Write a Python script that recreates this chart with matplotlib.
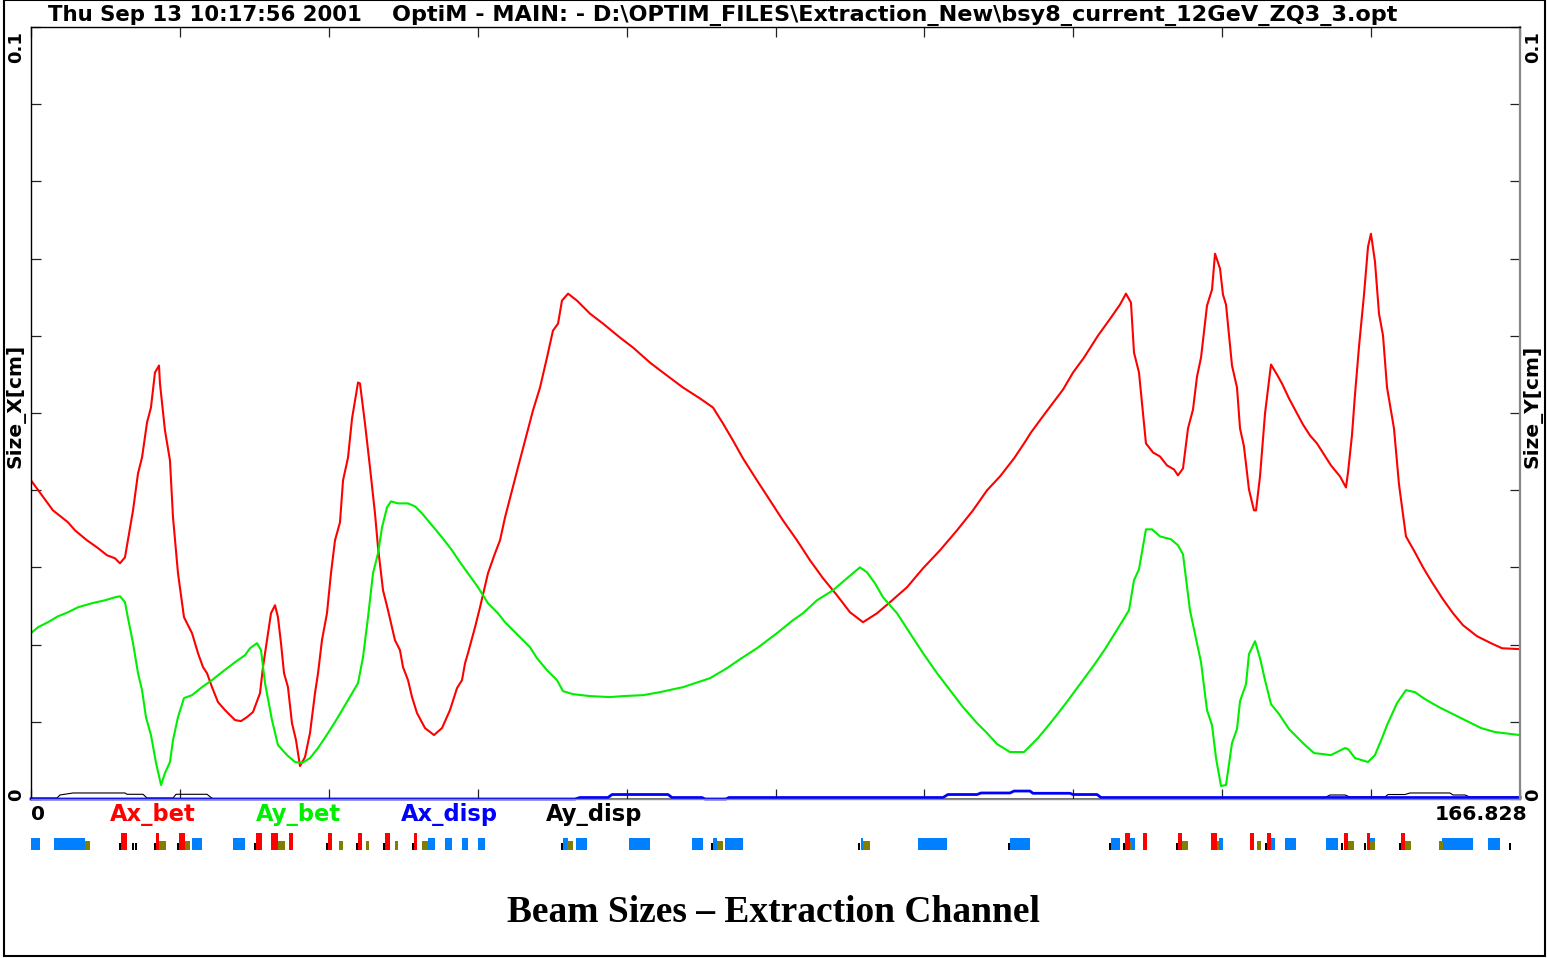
import numpy as np
import matplotlib.pyplot as plt
from matplotlib.patches import Rectangle

# -------------------------------
# Beam sizes (cm) along the line, s in m
# -------------------------------
s_x = [0.00, 1.23, 2.46, 4.15, 4.93, 6.27, 7.39, 8.52, 9.41, 9.97, 10.53, 10.76, 11.43, 11.99,
       12.44, 13.00, 13.44, 13.89, 14.34, 14.45, 15.01, 15.57, 15.91, 16.47, 17.14, 18.04, 18.71,
       19.27, 19.72, 20.28, 20.95, 21.74, 22.86, 23.53, 24.20, 24.87, 25.66, 25.99, 26.44, 26.89,
       27.34, 27.67, 28.01, 28.35, 28.79, 29.24, 29.69, 30.14, 30.70, 31.26, 31.82, 32.16, 32.60,
       33.16, 33.61, 34.06, 34.62, 34.96, 35.52, 35.97, 36.64, 36.86, 37.42, 37.98, 38.54, 38.88,
       39.44, 40.00, 40.78, 41.34, 41.68, 42.24, 42.69, 43.25, 44.14, 45.15, 46.05, 46.94, 47.73,
       48.29, 48.63, 48.96, 49.75, 50.31, 51.20, 51.99, 52.55, 53.11, 53.89, 54.56, 55.35, 56.24,
       57.03, 57.81, 58.48, 59.05, 59.49, 60.17, 61.17, 62.63, 64.09, 65.99, 67.45, 69.35, 71.26,
       73.05, 74.96, 76.41, 77.53, 78.65, 79.77, 81.34, 82.80, 84.25, 85.82, 87.28, 88.74, 90.30,
       91.76, 93.22, 94.79, 96.24, 98.15, 99.94, 101.84, 103.75, 105.54, 107.11, 108.57, 110.14,
       111.26, 112.04, 113.61, 115.63, 116.75, 117.98, 119.55, 121.00, 122.01, 122.68, 123.24,
       123.58, 124.14, 124.92, 125.71, 126.49, 127.28, 128.06, 128.51, 129.07, 129.63, 130.19,
       130.64, 131.09, 131.76, 132.32, 132.66, 133.22, 133.55, 133.89, 134.56, 135.12, 135.46,
       135.90, 136.46, 137.02, 137.25, 137.70, 138.26, 138.93, 139.60, 140.16, 140.95, 141.73,
       142.51, 143.30, 144.08, 144.87, 145.65, 146.66, 147.33, 147.56, 148.00, 148.34, 148.79,
       149.35, 149.80, 150.13, 150.58, 151.03, 151.48, 151.93, 152.71, 153.27, 154.05, 155.06,
       155.96, 156.97, 158.20, 159.32, 160.44, 162.01, 163.58, 164.81, 166.83]
ax_bet = [0.04127, 0.03933, 0.03739, 0.03584, 0.03480, 0.03351, 0.03260, 0.03157, 0.03118, 0.03053,
          0.03131, 0.03286, 0.03739, 0.04217, 0.04424, 0.04877, 0.05071, 0.05524, 0.05615, 0.05382,
          0.04774, 0.04386, 0.03648, 0.02924, 0.02355, 0.02148, 0.01889, 0.01708, 0.01630, 0.01449,
          0.01255, 0.01151, 0.01022, 0.01009, 0.01061, 0.01126, 0.01371, 0.01708, 0.02057, 0.02406,
          0.02510, 0.02355, 0.02018, 0.01630, 0.01449, 0.00983, 0.00763, 0.00427, 0.00543, 0.00854,
          0.01371, 0.01630, 0.02057, 0.02406, 0.02924, 0.03351, 0.03584, 0.04127, 0.04424, 0.04929,
          0.05395, 0.05382, 0.04864, 0.04295, 0.03700, 0.03260, 0.02704, 0.02445, 0.02057, 0.01928,
          0.01708, 0.01540, 0.01320, 0.01113, 0.00919, 0.00828, 0.00919, 0.01151, 0.01436, 0.01540,
          0.01759, 0.01889, 0.02225, 0.02484, 0.02924, 0.03183, 0.03351, 0.03648, 0.03998, 0.04295,
          0.04644, 0.05032, 0.05330, 0.05718, 0.06067, 0.06158, 0.06456, 0.06546, 0.06456, 0.06287,
          0.06158, 0.05977, 0.05848, 0.05653, 0.05485, 0.05330, 0.05188, 0.05071, 0.04864, 0.04644,
          0.04412, 0.04127, 0.03868, 0.03609, 0.03351, 0.03092, 0.02859, 0.02639, 0.02419, 0.02290,
          0.02406, 0.02549, 0.02743, 0.02988, 0.03221, 0.03480, 0.03739, 0.03998, 0.04179, 0.04412,
          0.04606, 0.04748, 0.04994, 0.05304, 0.05524, 0.05718, 0.06003, 0.06236, 0.06404, 0.06546,
          0.06430, 0.05783, 0.05524, 0.04606, 0.04489, 0.04437, 0.04321, 0.04269, 0.04192, 0.04282,
          0.04800, 0.05045, 0.05472, 0.05718, 0.06391, 0.06598, 0.07064, 0.06870, 0.06533, 0.06404,
          0.05615, 0.05330, 0.04800, 0.04567, 0.04010, 0.03739, 0.03739, 0.04179, 0.04994, 0.05628,
          0.05498, 0.05382, 0.05188, 0.05020, 0.04851, 0.04709, 0.04606, 0.04463, 0.04321, 0.04179,
          0.04036, 0.04230, 0.04709, 0.05239, 0.05860, 0.06533, 0.07154, 0.07322, 0.06960, 0.06287,
          0.06003, 0.05330, 0.04800, 0.04075, 0.03402, 0.03195, 0.03001, 0.02807, 0.02587, 0.02406,
          0.02251, 0.02109, 0.02018, 0.01953, 0.01941]

s_y = [0.00, 0.78, 1.90, 3.03, 4.15, 5.27, 6.83, 8.29, 9.41, 9.97, 10.53, 10.76, 11.43, 11.99,
       12.44, 12.88, 13.44, 14.01, 14.57, 15.01, 15.57, 15.91, 16.47, 17.14, 18.04, 19.16, 20.28,
       21.40, 22.86, 23.98, 24.54, 25.32, 25.77, 26.22, 27.00, 27.67, 28.68, 29.58, 30.36, 31.26,
       32.16, 33.28, 34.40, 35.52, 36.64, 37.20, 37.76, 38.32, 38.88, 39.33, 39.89, 40.33, 41.12,
       42.24, 43.02, 43.81, 44.93, 46.05, 47.17, 48.07, 48.96, 50.08, 51.20, 52.32, 53.11, 54.23,
       55.91, 56.69, 57.81, 58.93, 59.61, 60.73, 62.63, 64.87, 66.33, 68.57, 70.47, 73.05, 76.08,
       77.98, 79.44, 81.34, 83.58, 85.37, 86.49, 88.06, 89.86, 91.42, 92.88, 93.66, 94.56, 95.46,
       97.03, 98.48, 99.94, 101.51, 102.96, 104.42, 105.99, 107.11, 108.23, 109.69, 111.26,
       112.82, 114.39, 115.96, 117.53, 119.10, 120.33, 121.79, 123.02, 123.58, 124.14, 124.92,
       125.60, 126.49, 127.73, 128.51, 129.07, 129.85, 130.64, 131.09, 131.76, 132.32, 132.77,
       133.33, 133.89, 134.56, 135.12, 135.46, 136.13, 136.46, 137.14, 137.70, 138.26, 138.93,
       139.83, 140.95, 142.51, 143.75, 145.65, 147.22, 147.56, 148.34, 149.80, 150.58, 151.37,
       151.93, 153.05, 154.05, 155.06, 156.18, 157.75, 159.32, 160.89, 162.46, 164.03, 166.83]
ay_bet = [0.02148, 0.02225, 0.02290, 0.02367, 0.02419, 0.02484, 0.02536, 0.02574, 0.02613, 0.02626,
          0.02549, 0.02406, 0.02018, 0.01630, 0.01410, 0.01061, 0.00828, 0.00466, 0.00181, 0.00336,
          0.00479, 0.00763, 0.01061, 0.01307, 0.01345, 0.01449, 0.01540, 0.01643, 0.01772, 0.01863,
          0.01953, 0.02018, 0.01928, 0.01501, 0.01022, 0.00699, 0.00569, 0.00479, 0.00466, 0.00530,
          0.00660, 0.00854, 0.01061, 0.01281, 0.01501, 0.01837, 0.02355, 0.02924, 0.03183, 0.03519,
          0.03778, 0.03855, 0.03829, 0.03829, 0.03791, 0.03700, 0.03545, 0.03389, 0.03221, 0.03066,
          0.02924, 0.02743, 0.02536, 0.02406, 0.02290, 0.02160, 0.01966, 0.01824, 0.01669, 0.01540,
          0.01397, 0.01358, 0.01333, 0.01320, 0.01333, 0.01345, 0.01384, 0.01449, 0.01565, 0.01695,
          0.01811, 0.01953, 0.02148, 0.02316, 0.02406, 0.02574, 0.02704, 0.02859, 0.03001, 0.02937,
          0.02794, 0.02613, 0.02406, 0.02148, 0.01889, 0.01630, 0.01410, 0.01190, 0.00983, 0.00854,
          0.00712, 0.00608, 0.00608, 0.00789, 0.01009, 0.01242, 0.01488, 0.01734, 0.01941, 0.02212,
          0.02445, 0.02833, 0.02976, 0.03493, 0.03493, 0.03402, 0.03364, 0.03286, 0.03170, 0.02445,
          0.02018, 0.01772, 0.01151, 0.00957, 0.00530, 0.00168, 0.00181, 0.00724, 0.00906, 0.01268,
          0.01488, 0.01876, 0.02044, 0.01824, 0.01540, 0.01229, 0.01100, 0.00906, 0.00724, 0.00595,
          0.00569, 0.00660, 0.00647, 0.00530, 0.00479, 0.00569, 0.00789, 0.00957, 0.01242, 0.01410,
          0.01384, 0.01294, 0.01190, 0.01100, 0.01009, 0.00919, 0.00867, 0.00828]

# dispersion contributions (tiny, sit on the axis)
s_xd = [0, 60.95, 61.51, 64.65, 65.10, 71.37, 71.82, 75.18, 75.52, 77.87, 78.20, 102.18, 102.73,
        105.99, 106.44, 109.69, 110.14, 111.93, 112.26, 116.41, 116.75, 119.44, 119.88, 166.83]
ax_disp = [0, 0, 0.00019, 0.00019, 0.00058, 0.00058, 0.00019, 0.00019, 0, 0, 0.00019, 0.00019,
           0.00058, 0.00058, 0.00078, 0.00078, 0.00103, 0.00103, 0.00074, 0.00074, 0.00058,
           0.00058, 0.00019, 0.00019]
s_yd = [0, 2.91, 3.25, 4.71, 10.53, 10.76, 12.55, 13.00, 15.91, 16.25, 19.72, 20.39, 144.64,
        145.54, 147.22, 147.78, 151.70, 152.04, 153.94, 154.50, 158.98, 159.32, 160.66, 161.22, 166.83]
ay_disp = [0.00013, 0.00013, 0.00052, 0.00078, 0.00078, 0.00061, 0.00061, 0.00013, 0.00013,
           0.00061, 0.00061, 0, 0, 0.00052, 0.00052, 0.00026, 0.00026, 0.00058, 0.00058, 0.00078,
           0.00078, 0.00052, 0.00052, 0.00026, 0.00026]

# -------------------------------
# Lattice elements (start, end in m)
# -------------------------------
quad_start = [0.0, 2.58, 4.37, 18.04, 22.63, 44.48, 46.38, 48.29, 50.08, 59.61, 61.06, 66.99, 74.06,
              76.41, 77.75, 93.00, 99.38, 109.69, 121.00, 123.13, 133.10, 138.93, 140.50, 145.09,
              149.91, 158.09, 159.88, 163.24]
quad_end = [1.01, 4.37, 6.05, 19.16, 23.98, 45.26, 47.17, 48.96, 50.87, 60.17, 62.29, 69.35, 75.29,
            76.86, 79.77, 93.22, 102.63, 111.93, 122.01, 123.69, 133.55, 139.38, 141.73, 146.43,
            150.58, 159.88, 161.56, 164.59]
bend_start = [10.08, 14.01, 16.58, 25.21, 26.89, 28.91, 33.28, 36.64, 39.66, 42.91, 122.57, 124.59,
              128.51, 132.21, 136.58, 138.48, 147.10, 149.68, 153.49]
bend_end = [10.76, 14.34, 17.25, 25.88, 27.67, 29.35, 33.72, 37.08, 40.22, 43.25, 123.13, 125.04,
            128.96, 132.88, 137.02, 138.93, 147.56, 150.02, 153.94]
sext_start = [6.05, 14.34, 17.25, 27.67, 34.51, 37.53, 40.78, 43.81, 60.05, 76.86, 93.22, 122.91,
              128.96, 132.77, 137.36, 147.56, 150.02, 153.94, 157.75]
sext_end = [6.61, 15.13, 17.81, 28.46, 34.96, 37.87, 41.12, 44.48, 60.73, 77.53, 94.00, 123.35,
            129.63, 133.10, 137.81, 148.23, 150.58, 154.61, 158.20]
marker_s = [9.97, 11.43, 11.76, 13.89, 16.47, 25.10, 33.16, 36.53, 39.55, 42.80, 59.49, 76.30,
            92.77, 109.58, 120.89, 122.46, 128.40, 138.37, 146.88, 149.46, 153.38, 165.72]

s_total = 166.828
header_left = "Thu Sep 13 10:17:56 2001"
header_right = "OptiM - MAIN: - D:\\OPTIM_FILES\\Extraction_New\\bsy8_current_12GeV_ZQ3_3.opt"
legend_names = ["Ax_bet", "Ay_bet", "Ax_disp", "Ay_disp"]
legend_colors = ["#ff0000", "#00ee00", "#0000ff", "#000000"]

W, H = 1547, 958


def fx(px):
    return px / W


def fy(py):
    return 1 - py / H


fig = plt.figure(figsize=(W / 100, H / 100), dpi=100)

# main plot
ax = fig.add_axes([fx(31), fy(799), fx(1520) - fx(31), fy(27) - fy(799)])
ax.plot(s_x, ax_bet, color=legend_colors[0], lw=1.5)
ax.plot(s_y, ay_bet, color=legend_colors[1], lw=1.5)
ax.plot(s_yd, ay_disp, color=legend_colors[3], lw=0.8, clip_on=False)
ax.plot(s_xd, ax_disp, color=legend_colors[2], lw=2.0, clip_on=False)

ax.set_xlim(0, s_total)
ax.set_ylim(0, 0.1)
ax.set_xticks(np.linspace(0, s_total, 11))
ax.set_yticks(np.linspace(0, 0.1, 11))
ax.tick_params(direction='in', length=7, width=0.9, top=True, right=True,
               labelbottom=False, labelleft=False, colors='#222222')
for side in ['left', 'top']:
    ax.spines[side].set_color('black')
    ax.spines[side].set_linewidth(1.0)
ax.spines['right'].set_color('#888888')
ax.spines['right'].set_linewidth(1.6)
ax.spines['bottom'].set_color('#888888')
ax.spines['bottom'].set_linewidth(1.0)

bold = dict(fontweight='bold', family='DejaVu Sans')

# header
fig.text(fx(48), fy(15), header_left, fontsize=15.3, va='center', ha='left', **bold)
fig.text(fx(392), fy(15), header_right, fontsize=16.1, va='center', ha='left', **bold)

# axis labels (rotated)
fig.text(fx(16), fy(47), "0.1", fontsize=13, rotation=90, ha='center', va='center', **bold)
fig.text(fx(16), fy(795), "0", fontsize=13, rotation=90, ha='center', va='center', **bold)
fig.text(fx(1533), fy(47), "0.1", fontsize=13, rotation=90, ha='center', va='center', **bold)
fig.text(fx(1533), fy(795), "0", fontsize=13, rotation=90, ha='center', va='center', **bold)
fig.text(fx(16), fy(406), "Size_X[cm]", fontsize=14.5, rotation=90, ha='center', va='center', **bold)
fig.text(fx(1533), fy(406), "Size_Y[cm]", fontsize=14.5, rotation=90, ha='center', va='center', **bold)

# s labels and legend row
fig.text(fx(31), fy(815), "0", fontsize=14.5, ha='left', va='center', **bold)
fig.text(fx(1527), fy(815), f"{s_total:.3f}", fontsize=14.7, ha='right', va='center', **bold)
for name, col, px in zip(legend_names, legend_colors, [110, 256, 401, 546]):
    fig.text(fx(px), fy(815), name, color=col, fontsize=16.3, ha='left', va='center', **bold)

# element strip
ax_el = fig.add_axes([fx(31), fy(850), fx(1520) - fx(31), fy(833) - fy(850)])
ax_el.set_xlim(0, s_total)
ax_el.set_ylim(0, 1)
ax_el.axis('off')
ax_el.bar(quad_start, 0.70, width=np.array(quad_end) - np.array(quad_start),
          align='edge', color='#0080ff', linewidth=0)
ax_el.bar(sext_start, 0.53, width=np.array(sext_end) - np.array(sext_start),
          align='edge', color='#808000', linewidth=0)
ax_el.bar(bend_start, 1.0, width=np.array(bend_end) - np.array(bend_start),
          align='edge', color='#ff0000', linewidth=0)
ax_el.bar(marker_s, 0.41, width=0.25, color='black', linewidth=0)

# caption
fig.text(0.5, fy(913), "Beam Sizes \u2013 Extraction Channel", fontsize=27, fontweight='bold',
         family='Liberation Serif', ha='center', va='center')

# outer frame
fig.patches.append(Rectangle((fx(4), fy(956)), fx(1545) - fx(4), fy(0) - fy(956),
                             transform=fig.transFigure, fill=False, lw=1.5, ec='black'))

fig.savefig("out.png", dpi=100)
